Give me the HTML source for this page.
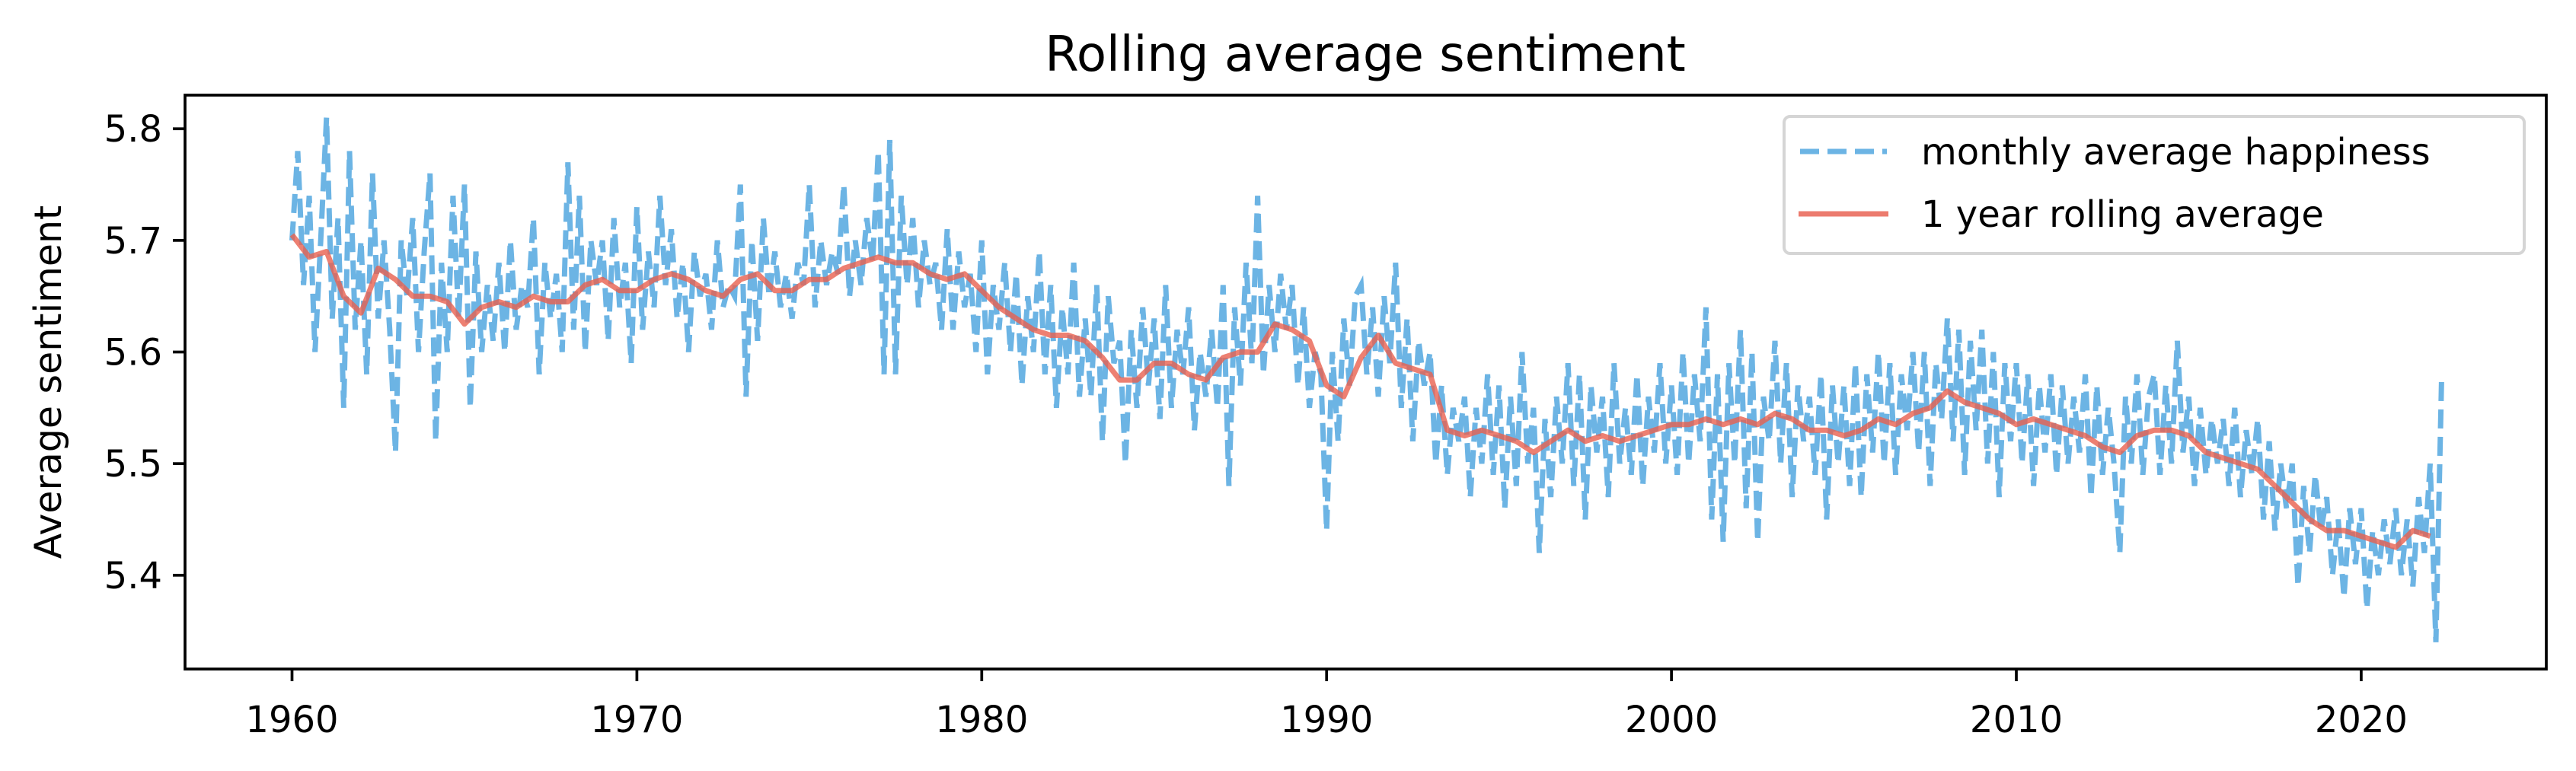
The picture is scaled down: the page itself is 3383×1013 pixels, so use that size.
<!DOCTYPE html>
<html><head><meta charset="utf-8"><style>
html,body{margin:0;padding:0;background:#fff;}
svg{display:block;font-family:"DejaVu Sans","Liberation Sans",sans-serif;}
</style></head><body>
<svg id="chart" width="3383" height="1013" viewBox="0 0 3383 1013">
<rect width="3383" height="1013" fill="#fff"/>
<text x="1793" y="93" font-size="64" text-anchor="middle">Rolling average sentiment</text>
<g id="plot"></g>
<g id="axes"></g>
<text transform="translate(80,502) rotate(-90)" font-size="49" text-anchor="middle">Average sentiment</text>
<g>
<rect x="2343" y="153" width="972" height="180" rx="8" fill="#fff" fill-opacity="0.8" stroke="#d5d5d5" stroke-width="4"/>
<line x1="2364" y1="199" x2="2478" y2="199" stroke="#6cb4e4" stroke-width="7" stroke-dasharray="25,11"/>
<text x="2523" y="216" font-size="48">monthly average happiness</text>
<line x1="2362" y1="281" x2="2480" y2="281" stroke="#ec7b6e" stroke-width="7"/>
<text x="2523" y="298" font-size="48">1 year rolling average</text>
</g>
</svg>
<script>
const monthlyStart = 1960, monthlyStep = 1/6;
const monthlyValues = [
5.70,5.78,5.66,5.74,5.60,5.70,
5.81,5.63,5.72,5.55,5.78,5.62,
5.70,5.58,5.76,5.63,5.70,5.62,
5.51,5.70,5.65,5.72,5.60,5.69,
5.76,5.52,5.68,5.60,5.74,5.63,
5.75,5.55,5.69,5.60,5.66,5.61,
5.68,5.60,5.70,5.62,5.66,5.64,
5.72,5.58,5.68,5.63,5.67,5.60,
5.77,5.62,5.74,5.60,5.70,5.66,
5.70,5.61,5.72,5.64,5.68,5.59,
5.73,5.62,5.69,5.64,5.74,5.66,
5.71,5.63,5.68,5.60,5.69,5.65,
5.67,5.62,5.70,5.64,5.66,5.65,
5.75,5.56,5.70,5.61,5.72,5.65,
5.69,5.64,5.67,5.63,5.68,5.66,
5.75,5.64,5.70,5.66,5.69,5.67,
5.75,5.65,5.70,5.66,5.72,5.68,
5.78,5.58,5.79,5.58,5.74,5.66,
5.72,5.64,5.70,5.66,5.68,5.62,
5.71,5.62,5.69,5.64,5.67,5.60,
5.70,5.58,5.66,5.62,5.68,5.60,
5.67,5.57,5.65,5.60,5.69,5.58,
5.66,5.55,5.64,5.58,5.68,5.56,
5.63,5.56,5.66,5.52,5.65,5.59,
5.61,5.50,5.62,5.55,5.64,5.57,
5.63,5.54,5.66,5.55,5.62,5.58,
5.64,5.53,5.60,5.56,5.62,5.55,
5.66,5.48,5.64,5.57,5.68,5.59,
5.74,5.58,5.66,5.60,5.67,5.62,
5.66,5.57,5.64,5.55,5.60,5.58,
5.44,5.60,5.52,5.63,5.57,5.65,
5.66,5.58,5.64,5.56,5.65,5.59,
5.68,5.55,5.63,5.52,5.61,5.57,
5.60,5.50,5.57,5.49,5.55,5.52,
5.56,5.47,5.55,5.50,5.58,5.49,
5.57,5.46,5.56,5.48,5.60,5.50,
5.55,5.42,5.54,5.47,5.56,5.50,
5.59,5.48,5.58,5.45,5.57,5.51,
5.56,5.47,5.59,5.50,5.55,5.49,
5.58,5.48,5.56,5.51,5.59,5.50,
5.57,5.49,5.60,5.50,5.58,5.52,
5.64,5.45,5.58,5.43,5.59,5.50,
5.62,5.46,5.60,5.43,5.56,5.52,
5.61,5.50,5.59,5.47,5.57,5.52,
5.56,5.49,5.58,5.45,5.57,5.50,
5.57,5.48,5.59,5.47,5.58,5.51,
5.60,5.50,5.59,5.49,5.58,5.53,
5.60,5.51,5.60,5.48,5.59,5.54,
5.63,5.52,5.62,5.49,5.61,5.53,
5.62,5.50,5.60,5.47,5.59,5.52,
5.59,5.50,5.58,5.48,5.57,5.51,
5.58,5.49,5.57,5.50,5.56,5.51,
5.58,5.47,5.57,5.49,5.55,5.50,
5.42,5.56,5.50,5.58,5.49,5.56,
5.58,5.49,5.57,5.50,5.61,5.51,
5.56,5.48,5.55,5.49,5.54,5.50,
5.54,5.48,5.55,5.47,5.53,5.49,
5.54,5.45,5.52,5.44,5.50,5.46,
5.50,5.39,5.48,5.42,5.49,5.44,
5.47,5.40,5.45,5.38,5.46,5.41,
5.46,5.37,5.44,5.40,5.45,5.41,
5.46,5.40,5.45,5.39,5.47,5.42,
5.50,5.34,5.58
];
const rollingStart = 1960, rollingStep = 0.5;
const rollingValues = [
5.705,5.685, 5.69,5.65, 5.635,5.675, 5.665,5.65, 5.65,5.645,
5.625,5.64, 5.645,5.64, 5.65,5.645, 5.645,5.66, 5.665,5.655,
5.655,5.665, 5.67,5.665, 5.655,5.65, 5.665,5.67, 5.655,5.655,
5.665,5.665, 5.675,5.68, 5.685,5.68, 5.68,5.67, 5.665,5.67,
5.655,5.64, 5.63,5.62, 5.615,5.615, 5.61,5.595, 5.575,5.575,
5.59,5.59, 5.58,5.575, 5.595,5.60, 5.60,5.625, 5.62,5.61,
5.57,5.56, 5.595,5.615, 5.59,5.585, 5.58,5.53, 5.525,5.53,
5.525,5.52, 5.51,5.52, 5.53,5.52, 5.525,5.52, 5.525,5.53,
5.535,5.535, 5.54,5.535, 5.54,5.535, 5.545,5.54, 5.53,5.53,
5.525,5.53, 5.54,5.535, 5.545,5.55, 5.565,5.555, 5.55,5.545,
5.535,5.54, 5.535,5.53, 5.525,5.515, 5.51,5.525, 5.53,5.53,
5.525,5.51, 5.505,5.50, 5.495,5.48, 5.465,5.45, 5.44,5.44,
5.435,5.43, 5.425,5.44, 5.435
];
const xTicks = [1960,1970,1980,1990,2000,2010,2020];
const yTicks = [5.4,5.5,5.6,5.7,5.8];

const AX = {left:243, right:3344, top:125, bottom:879};
function xScale(yr){ return 383.5 + (yr-1960)*45.29; }
function yScale(v){ return 169.2 + (5.8-v)*1466.5; }

const NS = "http://www.w3.org/2000/svg";
const plot = document.getElementById('plot');
const axes = document.getElementById('axes');

function pathFrom(vals, start, step){
  return vals.map((v,i)=> (i?'L':'M') + xScale(start+i*step).toFixed(1)+','+yScale(v).toFixed(1)).join(' ');
}
const mp = document.createElementNS(NS,'path');
mp.setAttribute('d', pathFrom(monthlyValues, monthlyStart, monthlyStep));
mp.setAttribute('fill','none');
mp.setAttribute('stroke','#6cb4e4');
mp.setAttribute('stroke-width','7');
mp.setAttribute('stroke-dasharray','25,11');


plot.appendChild(mp);

const rp = document.createElementNS(NS,'path');
rp.setAttribute('d', pathFrom(rollingValues, rollingStart, rollingStep));
rp.setAttribute('fill','none');
rp.setAttribute('stroke','#e8604f');
rp.setAttribute('stroke-opacity','0.8');
rp.setAttribute('stroke-width','7');
rp.setAttribute('stroke-linejoin','round');


plot.appendChild(rp);

const frame = document.createElementNS(NS,'rect');
frame.setAttribute('x',AX.left);
frame.setAttribute('y',AX.top);
frame.setAttribute('width',AX.right-AX.left);
frame.setAttribute('height',AX.bottom-AX.top);
frame.setAttribute('fill','none');
frame.setAttribute('stroke','#000');
frame.setAttribute('stroke-width','3.7');


axes.appendChild(frame);

xTicks.forEach(t=>{
  const x = xScale(t);
  const l = document.createElementNS(NS,'line');
  l.setAttribute('x1',x); l.setAttribute('x2',x);
  l.setAttribute('y1',AX.bottom); l.setAttribute('y2',AX.bottom+16);
  l.setAttribute('stroke','#000'); l.setAttribute('stroke-width','3.7');
  
  
  axes.appendChild(l);
  const tx = document.createElementNS(NS,'text');
  tx.setAttribute('x',x); tx.setAttribute('y',962);
  tx.setAttribute('font-size','48'); tx.setAttribute('text-anchor','middle');
  tx.textContent = t;
  
  
  axes.appendChild(tx);
});
yTicks.forEach(t=>{
  const y = yScale(t);
  const l = document.createElementNS(NS,'line');
  l.setAttribute('x1',AX.left-16); l.setAttribute('x2',AX.left);
  l.setAttribute('y1',y); l.setAttribute('y2',y);
  l.setAttribute('stroke','#000'); l.setAttribute('stroke-width','3.7');
  
  
  axes.appendChild(l);
  const tx = document.createElementNS(NS,'text');
  tx.setAttribute('x',AX.left-30); tx.setAttribute('y',y+17);
  tx.setAttribute('font-size','48'); tx.setAttribute('text-anchor','end');
  tx.textContent = t.toFixed(1);
  
  
  axes.appendChild(tx);
});
</script>
</body></html>
